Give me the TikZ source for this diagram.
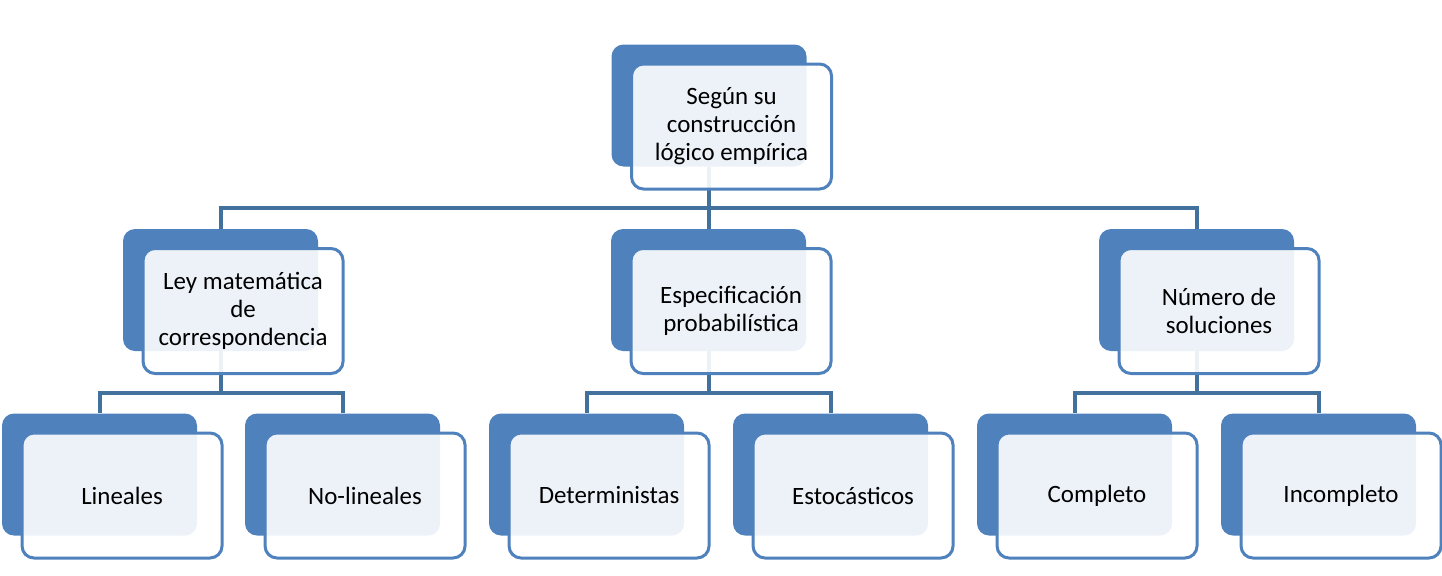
\documentclass[tikz,border=0pt]{standalone}
\usepackage{fontspec}
\setmainfont{Carlito}
\usepackage{xcolor}
\usepackage{tikz}
\definecolor{azul}{HTML}{4F81BD}
\definecolor{linea}{HTML}{41719C}

\begin{document}
\begin{tikzpicture}[x=0.75pt, y=-0.75pt,
    fondo/.style={rounded corners=9pt, fill=azul, inner sep=0pt, minimum width=146.25pt, minimum height=91.5pt},
    tarjeta/.style={rounded corners=9pt, draw=azul, line width=2.25pt, fill=white, fill opacity=0.9, text opacity=1,
        minimum width=150pt, minimum height=93.75pt, align=center, font=\fontsize{18.7}{21}\selectfont},
    conn/.style={draw=linea, line width=3pt}
]
    \useasboundingbox (0,0) rectangle (1442,575);
    % cajas de fondo
    \node[fondo] (sup) at (709,105.5) {};
    \node[fondo] (ley) at (220.5,290) {};
    \node[fondo] (esp) at (708.5,290) {};
    \node[fondo] (num) at (1196.5,290) {};
    \node[fondo] (lin) at (99.5,474.5) {};
    \node[fondo] (nolin) at (342.5,474.5) {};
    \node[fondo] (det) at (586.5,474.5) {};
    \node[fondo] (est) at (830.5,474.5) {};
    \node[fondo] (comp) at (1074.5,474.5) {};
    \node[fondo] (incomp) at (1318.5,474.5) {};
    % conectores
    \draw[conn] (sup.south) -- ++(0,41) -| (ley.north);
    \draw[conn] (sup.south) -- ++(0,41) -| (esp.north);
    \draw[conn] (sup.south) -- ++(0,41) -| (num.north);
    \draw[conn] (ley.south) -- ++(0,42) -| (lin.north);
    \draw[conn] (ley.south) -- ++(0,42) -| (nolin.north);
    \draw[conn] (esp.south) -- ++(0,42) -| (det.north);
    \draw[conn] (esp.south) -- ++(0,42) -| (est.north);
    \draw[conn] (num.south) -- ++(0,42) -| (comp.north);
    \draw[conn] (num.south) -- ++(0,42) -| (incomp.north);
    % cajas de texto
    \node[tarjeta] (supT) at ([xshift=16.9pt, yshift=-15.75pt]sup.center) {Según su\\construcción\\lógico empírica};
    \node[tarjeta] (leyT) at ([xshift=16.9pt, yshift=-15.75pt]ley.center) {Ley matemática\\de\\correspondencia};
    \node[tarjeta] (espT) at ([xshift=16.9pt, yshift=-15.75pt]esp.center) {Especificación\\probabilística};
    \node[tarjeta] (numT) at ([xshift=16.9pt, yshift=-15.75pt]num.center) {Número de\\soluciones};
    \node[tarjeta] (linT) at ([xshift=16.9pt, yshift=-15.75pt]lin.center) {Lineales};
    \node[tarjeta] (nolinT) at ([xshift=16.9pt, yshift=-15.75pt]nolin.center) {No-lineales};
    \node[tarjeta] (detT) at ([xshift=16.9pt, yshift=-15.75pt]det.center) {Deterministas};
    \node[tarjeta] (estT) at ([xshift=16.9pt, yshift=-15.75pt]est.center) {Estocásticos};
    \node[tarjeta] (compT) at ([xshift=16.9pt, yshift=-15.75pt]comp.center) {Completo};
    \node[tarjeta] (incompT) at ([xshift=16.9pt, yshift=-15.75pt]incomp.center) {Incompleto};
\end{tikzpicture}
\end{document}
